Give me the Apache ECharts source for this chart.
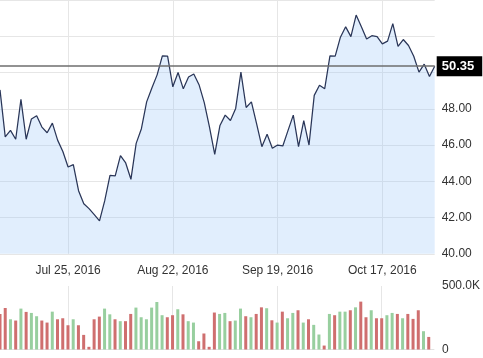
<!DOCTYPE html>
<html><head><meta charset="utf-8">
<script src="https://cdn.jsdelivr.net/npm/echarts@6/dist/echarts.min.js"></script>
<style>html,body{margin:0;padding:0;background:#fff}#c{width:483px;height:358px}</style>
</head><body><div id="c"></div>
<script>
const dates = [
 'Jul 6, 2016','Jul 7, 2016','Jul 8, 2016','Jul 11, 2016','Jul 12, 2016','Jul 13, 2016','Jul 14, 2016','Jul 15, 2016',
 'Jul 18, 2016','Jul 19, 2016','Jul 20, 2016','Jul 21, 2016','Jul 22, 2016','Jul 25, 2016','Jul 26, 2016','Jul 27, 2016',
 'Jul 28, 2016','Jul 29, 2016','Aug 1, 2016','Aug 2, 2016','Aug 3, 2016','Aug 4, 2016','Aug 5, 2016','Aug 8, 2016',
 'Aug 9, 2016','Aug 10, 2016','Aug 11, 2016','Aug 12, 2016','Aug 15, 2016','Aug 16, 2016','Aug 17, 2016','Aug 18, 2016',
 'Aug 19, 2016','Aug 22, 2016','Aug 23, 2016','Aug 24, 2016','Aug 25, 2016','Aug 26, 2016','Aug 29, 2016','Aug 30, 2016',
 'Aug 31, 2016','Sep 1, 2016','Sep 2, 2016','Sep 5, 2016','Sep 6, 2016','Sep 7, 2016','Sep 8, 2016','Sep 9, 2016',
 'Sep 12, 2016','Sep 13, 2016','Sep 14, 2016','Sep 15, 2016','Sep 16, 2016','Sep 19, 2016','Sep 20, 2016','Sep 21, 2016',
 'Sep 22, 2016','Sep 23, 2016','Sep 26, 2016','Sep 27, 2016','Sep 28, 2016','Sep 29, 2016','Sep 30, 2016','Oct 3, 2016',
 'Oct 4, 2016','Oct 5, 2016','Oct 6, 2016','Oct 7, 2016','Oct 10, 2016','Oct 11, 2016','Oct 12, 2016','Oct 13, 2016',
 'Oct 14, 2016','Oct 17, 2016','Oct 18, 2016','Oct 19, 2016','Oct 20, 2016','Oct 21, 2016','Oct 24, 2016','Oct 25, 2016',
 'Oct 26, 2016','Oct 27, 2016','Oct 28, 2016','Oct 31, 2016'
];
const labelDates = ['Jul 25, 2016','Aug 22, 2016','Sep 19, 2016','Oct 17, 2016'];
const prices = [
 49.04,46.45,46.81,46.32,48.52,46.32,47.44,47.62,46.99,46.68,47.21,46.27,45.64,44.79,44.92,43.48,
 42.76,42.49,42.16,41.82,42.93,44.32,44.30,45.42,45.01,44.11,46.09,46.90,48.38,49.15,49.87,50.92,
 50.90,49.21,50.00,49.10,49.75,49.92,49.33,48.34,46.99,45.49,47.08,47.65,47.35,48.02,50.02,48.07,
 48.38,47.17,45.91,46.59,45.82,46.00,45.95,46.81,47.65,45.91,47.35,46.00,48.74,49.30,49.11,50.92,
 50.90,51.95,52.52,51.98,53.17,52.52,51.85,52.03,51.98,51.58,51.73,52.70,51.44,51.82,51.49,50.90,
 50.02,50.46,49.78,50.35
];
const volumes = [
 280000,327000,238000,228000,322000,296000,288000,262000,228000,212000,298000,238000,246000,191000,238000,191000,
 115000,21000,238000,259000,322000,277000,238000,223000,223000,280000,330000,254000,238000,330000,374000,270000,
 254000,270000,317000,277000,223000,212000,65000,126000,21000,291000,280000,288000,223000,228000,322000,262000,
 254000,280000,332000,325000,230000,212000,298000,246000,288000,309000,212000,238000,194000,118000,31000,280000,
 270000,298000,298000,309000,332000,377000,254000,309000,246000,246000,270000,288000,280000,246000,280000,241000,
 309000,144000,99000,null
];
const lastPrice = prices[prices.length - 1];
const upColor = '#98cf9f', downColor = '#cf6f6f';
const volData = volumes.map((v, i) => ({
  value: v,
  itemStyle: { color: (i > 0 && prices[i] >= prices[i - 1]) ? upColor : downColor }
}));
const showIdx = (i, v) => labelDates.indexOf(v) >= 0;
const font = 'Liberation Sans, Arial, Helvetica, sans-serif';
const chart = echarts.init(document.getElementById('c'));
chart.setOption({
  animation: false,
  textStyle: { fontFamily: font },
  grid: [
    { left: -2, right: 48.3, top: -4.8, height: 258.6 },
    { left: -2, right: 48.3, top: 286, height: 63.5 }
  ],
  xAxis: [
    { type: 'category', gridIndex: 0, data: dates, boundaryGap: false,
      axisLine: { show: false }, axisTick: { show: false },
      axisLabel: { interval: showIdx, color: '#333', fontSize: 12, margin: 11, fontFamily: font },
      splitLine: { show: true, interval: showIdx, lineStyle: { color: '#e6e6e6', width: 1 } } },
    { type: 'category', gridIndex: 1, data: dates, boundaryGap: false, position: 'top',
      axisLine: { show: true, lineStyle: { color: '#e2e2e2', width: 1 } }, axisTick: { show: false },
      axisLabel: { show: false },
      splitLine: { show: true, interval: showIdx, lineStyle: { color: '#e6e6e6', width: 1 } } }
  ],
  yAxis: [
    { type: 'value', gridIndex: 0, position: 'right', min: 40, max: 54, interval: 2,
      axisLine: { show: false }, axisTick: { show: false },
      axisLabel: { color: '#333', fontSize: 12, margin: 7, fontFamily: font,
        formatter: v => v < 49 ? v.toFixed(2) : '' },
      splitLine: { show: true, lineStyle: { color: '#e6e6e6', width: 1 } } },
    { type: 'value', gridIndex: 1, position: 'right', min: 0, max: 500000, interval: 500000,
      axisLine: { show: false }, axisTick: { show: false },
      axisLabel: { color: '#333', fontSize: 12, margin: 8, fontFamily: font,
        formatter: v => v === 0 ? '0' : (v / 1000).toFixed(1) + 'K' },
      splitLine: { show: false } }
  ],
  series: [
    { type: 'line', xAxisIndex: 0, yAxisIndex: 0, data: prices, symbol: 'none', z: 3,
      lineStyle: { color: '#2a3658', width: 1.25 },
      areaStyle: { color: 'rgba(155,200,250,0.43)', origin: 'start' },
      markLine: { silent: true, symbol: 'none', z: 5, animation: false,
        lineStyle: { color: '#6e6e6e', width: 1.6, type: 'solid' },
        label: { show: true, position: 'end', distance: 2, formatter: lastPrice.toFixed(2),
          backgroundColor: '#000', color: '#fff', fontWeight: 'bold', fontSize: 13,
          fontFamily: font, padding: [4, 8, 3, 5] },
        emphasis: { disabled: true },
        data: [{ yAxis: lastPrice }] } },
    { type: 'bar', xAxisIndex: 1, yAxisIndex: 1, data: volData, barWidth: 3 }
  ]
});
</script></body></html>
